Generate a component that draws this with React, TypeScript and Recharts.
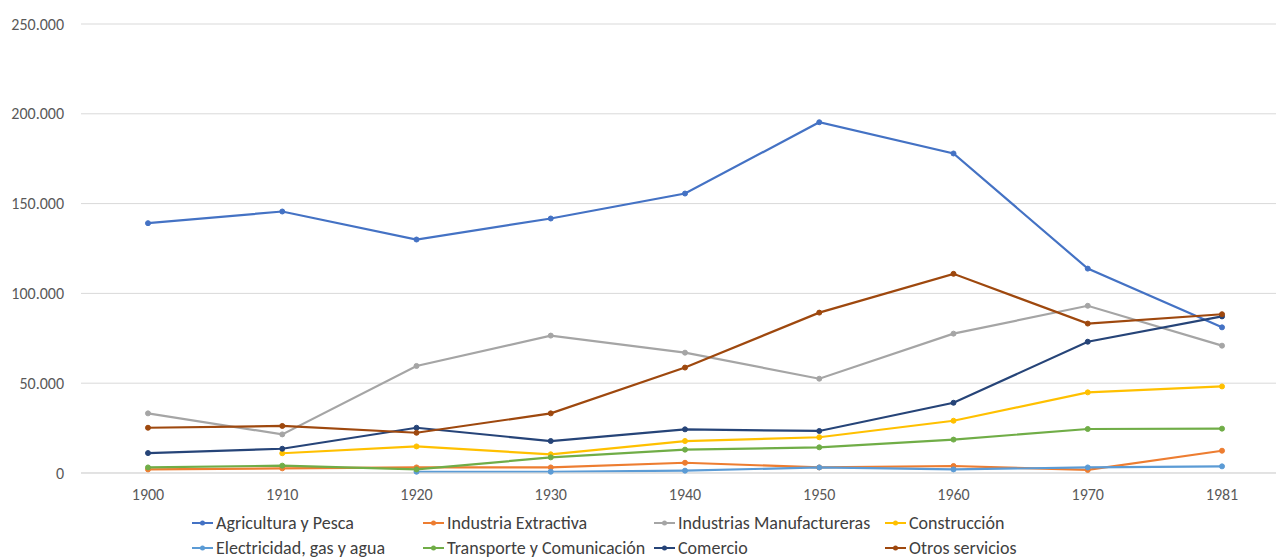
import { LineChart, Line, XAxis, YAxis, CartesianGrid, Legend } from "recharts";

const years = ["1900", "1910", "1920", "1930", "1940", "1950", "1960", "1970", "1981"];
const agricultura = [139100, 145600, 130000, 141700, 155600, 195300, 177900, 113800, 81100];
const extractiva = [2000, 2600, 3100, 3100, 5700, 3100, 3900, 1700, 12400];
const manufactureras = [33200, 21500, 59600, 76500, 67000, 52500, 77600, 93100, 70900];
const construccion = [null, 11000, 14800, 10400, 17800, 19900, 29100, 44900, 48200];
const electricidad = [null, null, 700, 700, 1300, 3100, 2000, 3100, 3700];
const transporte = [3100, 4100, 2000, 8700, 13000, 14300, 18600, 24500, 24700];
const comercio = [11100, 13500, 25200, 17800, 24300, 23400, 39100, 73100, 87200];
const otros = [25200, 26200, 22400, 33200, 58700, 89300, 110900, 83200, 88400];
const yTicks = [0, 50000, 100000, 150000, 200000, 250000];

const series = [
  { key: "agricultura", name: "Agricultura y Pesca", color: "#4472C4", values: agricultura },
  { key: "extractiva", name: "Industria Extractiva", color: "#ED7D31", values: extractiva },
  { key: "manufactureras", name: "Industrias Manufactureras", color: "#A5A5A5", values: manufactureras },
  { key: "construccion", name: "Construcción", color: "#FFC000", values: construccion },
  { key: "electricidad", name: "Electricidad, gas y agua", color: "#5B9BD5", values: electricidad },
  { key: "transporte", name: "Transporte y Comunicación", color: "#70AD47", values: transporte },
  { key: "comercio", name: "Comercio", color: "#264478", values: comercio },
  { key: "otros", name: "Otros servicios", color: "#9E480E", values: otros },
];

const data = years.map((year, i) => {
  const row: Record<string, string | number | null> = { year };
  series.forEach((s) => {
    row[s.key] = s.values[i];
  });
  return row;
});

const FONT = "Carlito, 'Liberation Sans', Arial, sans-serif";

const formatTick = (v: number) =>
  v === 0 ? "0" : v.toLocaleString("de-DE", { maximumFractionDigits: 0 });

function ExcelLegend() {
  return (
    <div style={{ position: "relative", height: 57, fontFamily: FONT, fontSize: 18, color: "#404040" }}>
      {series.map((s, i) => {
        const col = i % 4;
        const row = Math.floor(i / 4);
        return (
          <div
            key={s.key}
            style={{
              position: "absolute",
              left: 192 + col * 231,
              top: 8 + row * 25,
              display: "flex",
              alignItems: "center",
              whiteSpace: "nowrap",
              lineHeight: "24px",
            }}
          >
            <svg width={22} height={10} style={{ marginRight: 2 }}>
              <line x1={0} y1={5} x2={21} y2={5} stroke={s.color} strokeWidth={2} />
              <circle cx={10.5} cy={5} r={2.5} fill={s.color} />
            </svg>
            {s.name}
          </div>
        );
      })}
    </div>
  );
}

export default function App() {
  return (
    <div style={{ position: "absolute", left: 0, top: 0, width: 1276, height: 560, overflow: "hidden", background: "#fff" }}>
      <LineChart width={1300} height={560} data={data} margin={{ top: 24, right: 11, bottom: 0, left: 0 }}>
        <CartesianGrid vertical={false} stroke="#D9D9D9" strokeWidth={1} />
        <XAxis
          dataKey="year"
          padding={{ left: 67, right: 67 }}
          axisLine={{ stroke: "#D9D9D9" }}
          tickLine={false}
          tickSize={0}
          tickMargin={16}
          height={30}
          tick={{ fill: "#595959", fontSize: 16, fontFamily: FONT }}
        />
        <YAxis
          width={81}
          domain={[0, 250000]}
          ticks={yTicks}
          axisLine={false}
          tickLine={false}
          tickSize={0}
          tickMargin={17}
          tickFormatter={formatTick}
          tick={{ fill: "#595959", fontSize: 16, fontFamily: FONT }}
        />
        <Legend verticalAlign="bottom" content={<ExcelLegend />} wrapperStyle={{ left: 0, width: 1300 }} />
        {series.map((s) => (
          <Line
            key={s.key}
            type="linear"
            dataKey={s.key}
            name={s.name}
            stroke={s.color}
            strokeWidth={2.2}
            dot={{ r: 2.5, fill: s.color, stroke: s.color, strokeWidth: 1 }}
            activeDot={false}
            isAnimationActive={false}
          />
        ))}
      </LineChart>
    </div>
  );
}
